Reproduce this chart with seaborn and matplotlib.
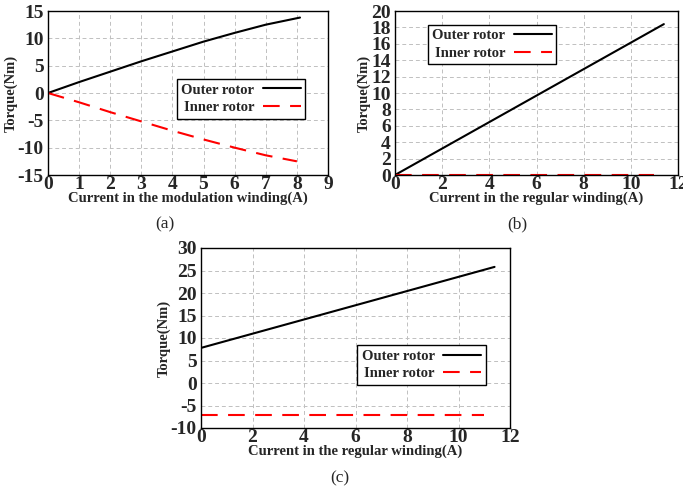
import numpy as np
import pandas as pd
import seaborn as sns
import matplotlib.pyplot as plt

# panel (a): modulation winding
a_current = [0, 1, 2, 3, 4, 5, 6, 7, 8.1]
a_outer = [0, 2.0, 3.9, 5.8, 7.6, 9.4, 11.0, 12.5, 13.8]
a_inner_current = [0, 1, 2, 3, 4, 5, 6, 7, 8]
a_inner = [0, -1.7, -3.5, -5.2, -6.9, -8.5, -10.0, -11.4, -12.5]

# panel (b): regular winding
b_current = [0, 11.4]
b_outer = [0, 18.4]
b_inner_current = [0, 11]
b_inner = [0, 0]

# panel (c): regular winding
c_current = [0, 11.4]
c_outer = [7.8, 25.8]
c_inner_current = [0, 11]
c_inner = [-7, -7]

sns.set_style("white")
plt.rcParams['font.family'] = ['Liberation Serif', 'DejaVu Serif']
plt.rcParams['font.weight'] = 'bold'
plt.rcParams['axes.unicode_minus'] = False

fig = plt.figure(figsize=(6.83, 4.91), dpi=100)
W, H = 683, 491


def make_ax(l, r, t, b):
    return fig.add_axes([l / W, 1 - b / H, (r - l) / W, (b - t) / H])


def draw(ax, xo, yo, xi, yi, xlim, ylim, xticks, yticks, xlabel, leg_loc, leg_anchor):
    sns.lineplot(x=xo, y=yo, ax=ax, color='black', lw=1.5, label='Outer rotor')
    sns.lineplot(x=xi, y=yi, ax=ax, color='red', lw=1.5, label='Inner rotor')
    ax.lines[1].set_dashes([8, 5])
    ax.set_xlim(xlim)
    ax.set_ylim(ylim)
    ax.set_xticks(xticks)
    ax.set_yticks(yticks)
    ax.tick_params(labelsize=14, length=0)
    ax.tick_params(axis='x', pad=1)
    ax.tick_params(axis='y', pad=3)
    for lab in ax.get_xticklabels() + ax.get_yticklabels():
        lab.set_fontweight('bold')
    ax.grid(True, color='#c0c0c0', linestyle=(0, (4, 3)), linewidth=0.7)
    for s in ax.spines.values():
        s.set_color('black')
        s.set_linewidth(1.0)
    ax.set_xlabel(xlabel, fontsize=10.5, fontweight='bold', labelpad=-1)
    ax.set_ylabel('Torque(Nm)', fontsize=10.5, fontweight='bold', labelpad=0)
    leg = ax.legend(loc=leg_loc, bbox_to_anchor=leg_anchor, markerfirst=False,
                    fancybox=False, framealpha=1, edgecolor='black',
                    prop={'size': 10.5, 'weight': 'bold'},
                    handlelength=2.6, handletextpad=0.6, borderpad=0.3,
                    labelspacing=0.3)
    leg.get_frame().set_linewidth(1.0)


ax1 = make_ax(48, 328, 11, 175)
draw(ax1, a_current, a_outer, a_inner_current, a_inner, (0, 9), (-15, 15),
     range(0, 10), range(-15, 16, 5), 'Current in the modulation winding(A)',
     'upper right', (0.945, 0.63))

ax2 = make_ax(395, 678, 11, 175)
draw(ax2, b_current, b_outer, b_inner_current, b_inner, (0, 12), (0, 20),
     range(0, 13, 2), range(0, 21, 2), 'Current in the regular winding(A)',
     'upper left', (0.09, 0.96))

ax3 = make_ax(201, 510, 248, 428)
draw(ax3, c_current, c_outer, c_inner_current, c_inner, (0, 12), (-10, 30),
     range(0, 13, 2), range(-10, 31, 5), 'Current in the regular winding(A)',
     'upper right', (0.945, 0.5))

fig.text(165 / W, 1 - 224 / H, '(a)', fontsize=12.5, fontweight='normal', ha='center', va='center')
fig.text(517 / W, 1 - 224 / H, '(b)', fontsize=12.5, fontweight='normal', ha='center', va='center')
fig.text(340 / W, 1 - 478 / H, '(c)', fontsize=12.5, fontweight='normal', ha='center', va='center')

fig.savefig('out.png', dpi=100)
